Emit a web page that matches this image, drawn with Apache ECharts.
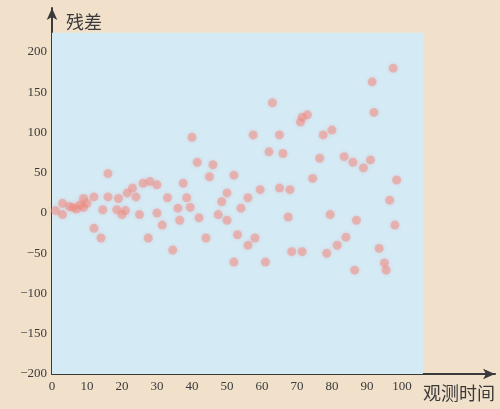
<!DOCTYPE html>
<html>
<head>
<meta charset="utf-8">
<script src="https://cdn.jsdelivr.net/npm/echarts@6/dist/echarts.min.js"></script>
<style>
html,body{margin:0;padding:0;background:#f1e0ca;}
#chart{width:500px;height:409px;}
</style>
</head>
<body>
<div id="chart"></div>
<script>
var obsTime = [1,3,3,5,6,7,8,9,9,10,12,12,14,14.5,16,16,18.5,19,20,21,21.5,23,24,25,26,27.5,28,30,30,31.5,33,34.5,36,36.5,37.5,38.5,39.5,40,41.5,42,44,45,46,47.5,48.5,50,50,52,52,53,54,56,56,57.5,58,59.5,61,62,63,65,65,66,67.5,68,68.5,71,71.5,71.5,73,74.5,76.5,77.5,78.5,79.5,80,81.5,83.5,84,86,86.5,87,89,91,91.5,92,93.5,95,95.5,96.5,97.5,98,98.5];
var residual = [3,12,-2,8,7,5,10,18,7,12,20,-19,-31,4,20,49,4,18,-2,3,25,31,20,-2,37,-31,39,35,0,-15,19,-46,6,-9,37,19,7,94,63,-6,-31,45,60,-2,14,25,-9,47,-61,-27,6,19,-40,97,-31,29,-61,76,137,97,31,74,-5,29,-48,113,119,-48,122,43,68,97,-50,-2,103,-40,70,-30,63,-71,-9,56,66,163,125,-44,-62,-71,16,180,-15,41];
var xTicks = [0,10,20,30,40,50,60,70,80,90,100];
var yTicks = [-200,-150,-100,-50,0,50,100,150,200];
var xName = '观测时间';
var yName = '残差';

var pts = obsTime.map(function(t,i){return [t, residual[i]];});
var chart = echarts.init(document.getElementById('chart'));
var labelStyle = {fontFamily:'Liberation Serif', fontSize:13, color:'#3a3a3a'};
chart.setOption({
  backgroundColor:'#f1e0ca',
  animation:false,
  grid:{left:52, right:5, top:8, bottom:35},
  xAxis:{
    type:'value', min:0, max:126.6,
    axisLine:{onZero:false, lineStyle:{color:'#3a3a3a', width:2}, symbol:['none','arrow'], symbolSize:[8,12]},
    axisTick:{inside:true, length:4, lineStyle:{color:'#2a3a4a', width:2}, customValues:xTicks.slice(1)},
    axisLabel:Object.assign({customValues:xTicks, margin:6}, labelStyle),
    splitLine:{show:false},
    name:xName, nameLocation:'end', nameGap:0,
    nameTextStyle:{fontFamily:'Noto Sans CJK SC', fontSize:18, color:'#3a3a3a', align:'right', verticalAlign:'top', padding:[10,0,0,0]}
  },
  yAxis:{
    type:'value', min:-200, max:254.7,
    axisLine:{onZero:false, lineStyle:{color:'#3a3a3a', width:2}, symbol:['none','arrow'], symbolSize:[8,12]},
    axisTick:{inside:true, length:4, lineStyle:{color:'#2a3a4a', width:2}, customValues:yTicks.slice(1)},
    axisLabel:Object.assign({customValues:yTicks, margin:5, formatter:function(v){return v<0?'\u2212'+Math.abs(v):''+v;}}, labelStyle),
    splitLine:{show:false},
    name:yName, nameLocation:'end', nameGap:-14,
    nameTextStyle:{fontFamily:'Noto Sans CJK SC', fontSize:18, color:'#3a3a3a', align:'left', verticalAlign:'middle', padding:[0,0,0,14]}
  },
  series:[{
    type:'scatter',
    data:pts,
    symbolSize:9,
    itemStyle:{color:'rgba(240,135,125,0.62)', shadowBlur:4, shadowColor:'rgba(240,135,125,0.5)'},
    markArea:{
      silent:true,
      itemStyle:{color:'#d4ebf6'},
      data:[[{coord:[0,-200]},{coord:[106,224]}]]
    },
    z:3
  }]
});
</script>
</body>
</html>
